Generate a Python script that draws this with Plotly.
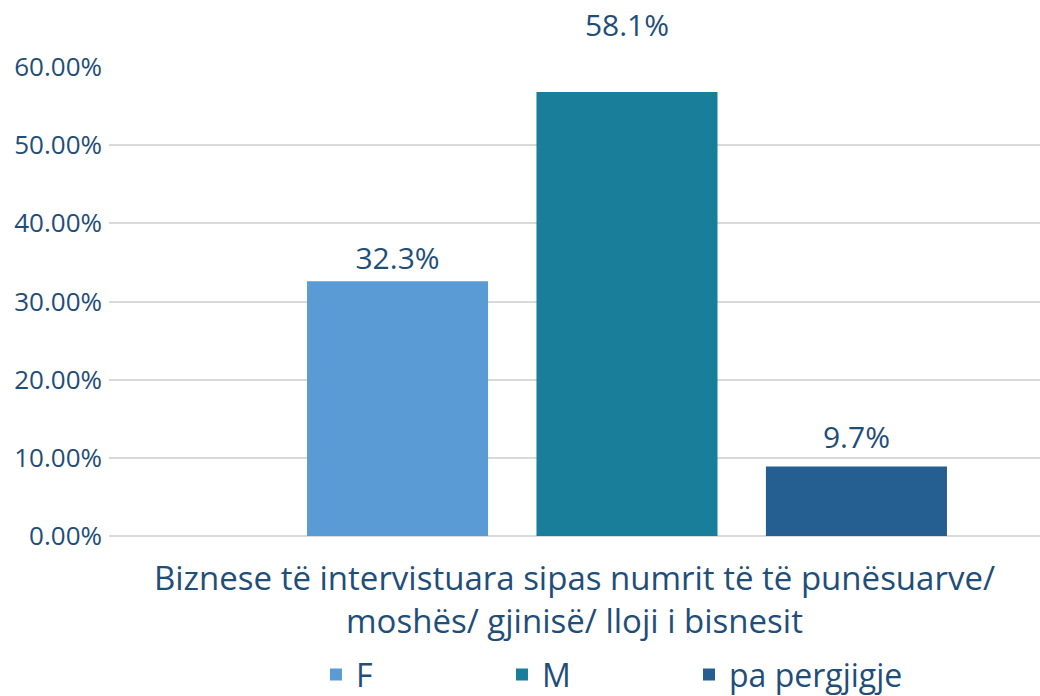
import plotly.graph_objects as go

category = ["Biznese të intervistuara sipas numrit të të punësuarve/<br>moshës/ gjinisë/ lloji i bisnesit"]
series_names = ["F", "M", "pa pergjigje"]
bar_heights = [0.326, 0.568, 0.089]
label_texts = ["32.3%", "58.1%", "9.7%"]
colors = ["#5B9BD5", "#187E9A", "#255E91"]
y_ticks = [0, 0.1, 0.2, 0.3, 0.4, 0.5, 0.6]

# label lift (invisible marker size controls the text offset above each bar)
label_lift = [6, 76, 16]
# one legend box per series, at these paper-x positions
legend_ids = ["legend", "legend2", "legend3"]
legend_x = [0.2223, 0.4221, 0.623]

TEXT = "#1F4E79"
FONT = "Open Sans"

fig = go.Figure()
for i, (name, h, col) in enumerate(zip(series_names, bar_heights, colors)):
    fig.add_trace(go.Bar(
        x=category, y=[h], name=name, offsetgroup=str(i), legend=legend_ids[i],
        marker=dict(color=col, line=dict(width=0)),
        hoverinfo="skip",
    ))
for i, (h, lab, lift) in enumerate(zip(bar_heights, label_texts, label_lift)):
    fig.add_trace(go.Scatter(
        x=category, y=[h], mode="markers+text", offsetgroup=str(i),
        text=[lab], textposition="top center", cliponaxis=False,
        textfont=dict(family=FONT, size=30, color=TEXT),
        marker=dict(size=lift, opacity=0), showlegend=False, hoverinfo="skip",
    ))

legend_style = dict(orientation="h", xanchor="left", y=-0.296, yanchor="middle",
                    font=dict(family=FONT, size=32, color=TEXT), itemsizing="constant",
                    bgcolor="rgba(0,0,0,0)")

fig.update_layout(
    width=1040, height=696,
    margin=dict(l=109, r=0, t=67, b=160, autoexpand=False),
    plot_bgcolor="white", paper_bgcolor="white",
    barmode="group", bargap=0.2, bargroupgap=0.211,
    scattermode="group", scattergap=0.2,
    font=dict(family=FONT, color=TEXT),
    showlegend=True,
    xaxis=dict(
        type="category", range=[-0.602, 0.48], showticklabels=False, showgrid=False,
        showline=False, zeroline=False, ticks="", automargin=False,
        title=dict(text=category[0], font=dict(family=FONT, size=33, color=TEXT), standoff=30),
    ),
    yaxis=dict(
        range=[0, 0.6], tickvals=y_ticks, tickformat=".2%", automargin=False,
        tickfont=dict(family=FONT, size=26, color=TEXT),
        showgrid=True, gridcolor="#D9D9D9", gridwidth=2,
        zeroline=True, zerolinecolor="#D9D9D9", zerolinewidth=2,
        showline=False, ticks="", ticklabelstandoff=6,
    ),
)
for lid, lx in zip(legend_ids, legend_x):
    fig.update_layout({lid: dict(legend_style, x=lx)})

# remove the browser's default 8px body margin so the figure fills the window exactly
fig.write_html("out.html", config={"displayModeBar": False},
               post_script="document.body.style.margin='0px';")
